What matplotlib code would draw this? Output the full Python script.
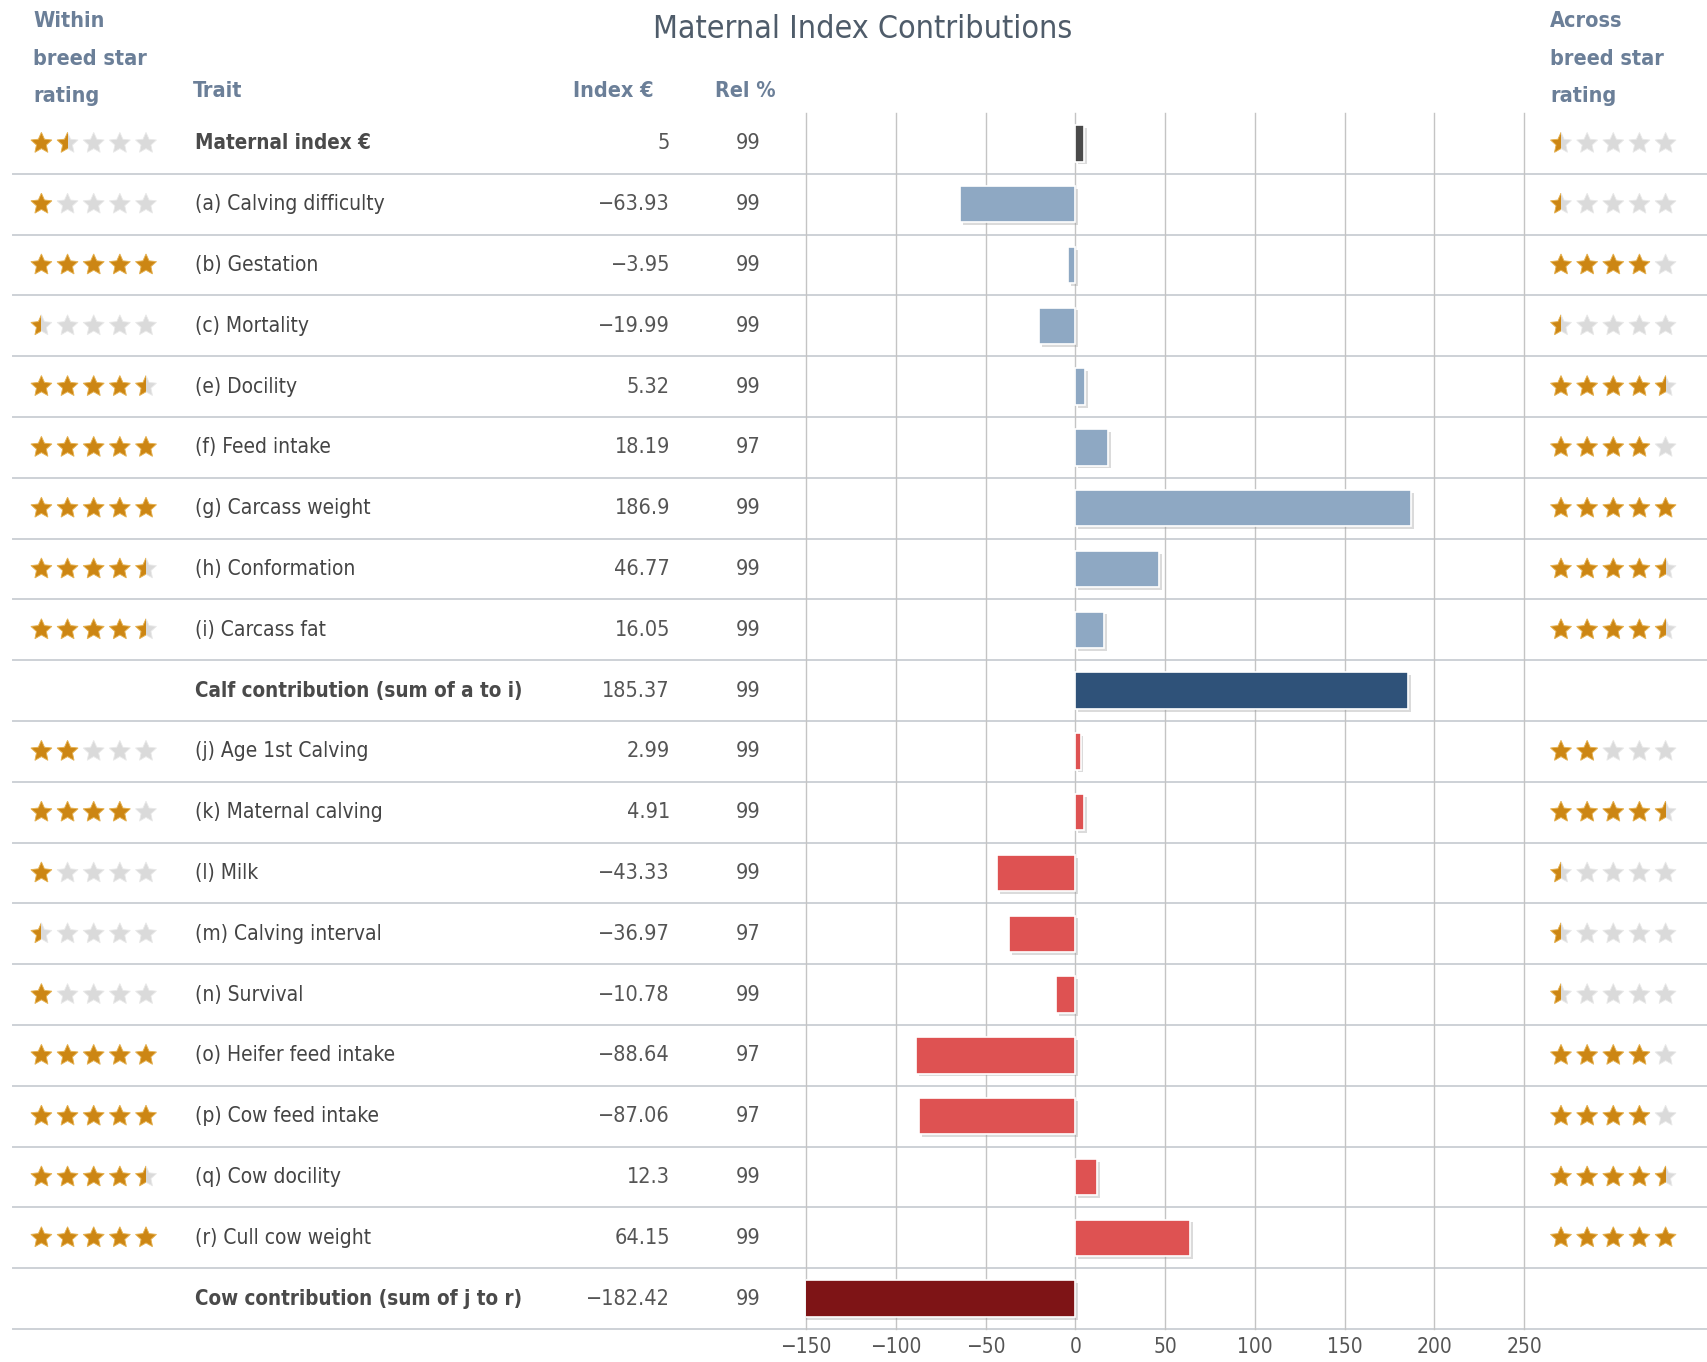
import matplotlib
matplotlib.use("Agg")
import matplotlib.pyplot as plt
import numpy as np
from matplotlib import font_manager as fm
from matplotlib.patches import Polygon, Rectangle
import matplotlib.patheffects as pe

# ---------------- data ----------------
traits = ["Maternal index €", "(a) Calving difficulty", "(b) Gestation", "(c) Mortality",
          "(e) Docility", "(f) Feed intake", "(g) Carcass weight", "(h) Conformation",
          "(i) Carcass fat", "Calf contribution (sum of a to i)", "(j) Age 1st Calving",
          "(k) Maternal calving", "(l) Milk", "(m) Calving interval", "(n) Survival",
          "(o) Heifer feed intake", "(p) Cow feed intake", "(q) Cow docility",
          "(r) Cull cow weight", "Cow contribution (sum of j to r)"]
index_vals = [5, -63.93, -3.95, -19.99, 5.32, 18.19, 186.9, 46.77, 16.05, 185.37,
              2.99, 4.91, -43.33, -36.97, -10.78, -88.64, -87.06, 12.3, 64.15, -182.42]
rel_vals = [99, 99, 99, 99, 99, 97, 99, 99, 99, 99, 99, 99, 99, 97, 99, 97, 97, 99, 99, 99]
within_stars = [1.5, 1, 5, 0.5, 4.5, 5, 5, 4.5, 4.5, None, 2, 4, 1, 0.5, 1, 5, 5, 4.5, 5, None]
across_stars = [0.5, 0.5, 4, 0.5, 4.5, 4, 5, 4.5, 4.5, None, 2, 4.5, 0.5, 0.5, 0.5, 4, 4, 4.5, 5, None]
groups = ["index"] + ["calf"] * 8 + ["calf_total"] + ["cow"] * 9 + ["cow_total"]
bold_rows = ["Maternal index €", "Calf contribution (sum of a to i)", "Cow contribution (sum of j to r)"]
x_ticks = [-150, -100, -50, 0, 50, 100, 150, 200, 250]
title = "Maternal Index Contributions"

group_colors = {"index": "#4a4a4a", "calf": "#8ea8c3", "calf_total": "#2f5279",
                "cow": "#de5252", "cow_total": "#7e1416"}

# ---------------- fonts ----------------
names = {f.name for f in fm.fontManager.ttflist}
if "Liberation Sans Narrow" in names:
    FONT = dict(family="Liberation Sans Narrow")
else:
    FONT = dict(family="DejaVu Sans", stretch="condensed")

def fmt(v):
    return f"{v:g}".replace("-", "\u2212")

# ---------------- layout (pixels) ----------------
W, H = 1708, 1362
top, bottom = 113, 1329
x_left, x_right = 806, 1524
n = len(traits)
rowh = (bottom - top) / n

fig = plt.figure(figsize=(W / 100, H / 100), dpi=100)
fig.patch.set_facecolor("white")
bg = fig.add_axes([0, 0, 1, 1])
bg.set_xlim(0, W)
bg.set_ylim(H, 0)
bg.axis("off")

ax = fig.add_axes([x_left / W, 1 - bottom / H, (x_right - x_left) / W, (bottom - top) / H])
ax.set_facecolor("none")
ax.set_xlim(x_ticks[0], x_ticks[-1])
ax.set_ylim(n - 0.5, -0.5)
ax.set_xticks(x_ticks)
ax.set_xticklabels([fmt(t) for t in x_ticks], fontsize=15, color="#555555", **FONT)
ax.set_yticks([])
ax.tick_params(axis="x", length=0, pad=6)
ax.grid(axis="x", color="#c4c4c4", lw=1.0)
for gl in ax.get_xgridlines():
    gl.set_clip_on(False)
ax.set_axisbelow(True)
for s in ax.spines.values():
    s.set_visible(False)

def row_y(i):
    return top + (i + 0.5) * rowh

# separators
for i in range(1, n + 1):
    yy = top + i * rowh
    bg.plot([13, W], [yy, yy], color="#cdd1d6", lw=1.4, zorder=1)

# bars
colors = [group_colors[g] for g in groups]
bars = ax.barh(range(n), index_vals, height=0.6, color=colors, edgecolor="white",
               linewidth=1.2, zorder=3)
for b in bars:
    b.set_path_effects([pe.SimplePatchShadow(offset=(2, -2), shadow_rgbFace="#999999", alpha=0.35),
                        pe.Normal()])

# stars
def draw_star(cx, cy, r, frac):
    ang = np.pi / 2 + np.arange(10) * np.pi / 5
    rad = np.where(np.arange(10) % 2 == 0, r, r * 0.47)
    pts = np.column_stack([cx + rad * np.cos(ang), cy - rad * np.sin(ang)])
    bg.add_patch(Polygon(pts, closed=True, facecolor="#dadada", edgecolor="#e9e9e9", lw=0.6, zorder=4))
    if frac > 0:
        p = Polygon(pts, closed=True, facecolor="#cc8614", edgecolor="#e9b34e", lw=0.6, zorder=5)
        bg.add_patch(p)
        if frac < 1:
            clip = Rectangle((cx - r - 1, cy - r - 1), r + 1, 2 * r + 2, transform=bg.transData)
            p.set_clip_path(clip)

def draw_rating(x0, cy, rating):
    for k in range(5):
        frac = min(max(rating - k, 0), 1)
        draw_star(x0 + k * 26.15, cy, 11, frac)

for i in range(n):
    y = row_y(i)
    if within_stars[i] is not None:
        draw_rating(41.4, y, within_stars[i])
    if across_stars[i] is not None:
        draw_rating(1561, y, across_stars[i])
    is_bold = traits[i] in bold_rows
    bg.text(195, y, traits[i], fontsize=15 if not is_bold else 14.8,
            color="#4a4a4a" if is_bold else "#444444",
            fontweight="bold" if is_bold else "normal", ha="left", va="center", **FONT)
    bg.text(670, y, fmt(index_vals[i]), fontsize=15.5, color="#555555", ha="right", va="center", **FONT)
    bg.text(761, y, str(rel_vals[i]), fontsize=15.5, color="#555555", ha="right", va="center", **FONT)

# headers
hdr = dict(fontsize=15.5, color="#6b7f98", fontweight="bold", va="center", **FONT)
for yy, t in zip([21, 59, 96], ["Within", "breed star", "rating"]):
    bg.text(33, yy, t, ha="left", **hdr)
for yy, t in zip([21, 59, 96], ["Across", "breed star", "rating"]):
    bg.text(1550, yy, t, ha="left", **hdr)
bg.text(193, 91, "Trait", ha="left", **hdr)
bg.text(654, 91, "Index €", ha="right", **hdr)
bg.text(776, 91, "Rel %", ha="right", **hdr)
bg.text(863, 29, title, fontsize=23, color="#4f5c6a", ha="center", va="center", **FONT)

fig.savefig("out.png", dpi=100, facecolor="white")
